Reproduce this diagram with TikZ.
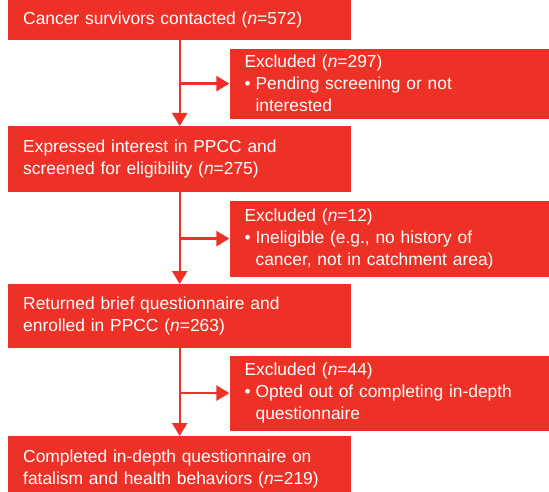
\documentclass[tikz,border=0pt]{standalone}
\usepackage{fontspec}
\setmainfont{Liberation Sans}
\usetikzlibrary{arrows.meta,positioning}

\definecolor{flowred}{RGB}{238,49,39}

% bullet for the exclusion reasons
\newcommand{\itemmark}{\makebox[11pt][l]{\textbullet}}
\newcommand{\itemgap}{\hspace*{11pt}}

\begin{document}
\begin{tikzpicture}[x=1pt,y=-1pt]

  % --- styles ---
  \tikzset{
    % main steps of the flow
    stagebox/.style={
      draw=none,
      fill=flowred,
      text=white,
      font=\fontsize{17.4pt}{22pt}\selectfont,
      align=left,
      anchor=north west,
      minimum width=343pt,
      text width=313pt,
      inner xsep=15pt,
      inner ysep=0pt
    },
    % side boxes for excluded survivors
    excludebox/.style={
      stagebox,
      minimum width=330pt,
      text width=300pt
    },
    flowline/.style={
      draw=flowred,
      line width=2.4pt,
      -{Triangle[width=15pt,length=13pt]}
    }
  }

  \clip (0,0) rectangle (549,492);

  % --- main stages ---
  \node[stagebox, minimum height=40pt] (contacted) at (8,0)
    {Cancer survivors contacted (\textit{n}=572)};
  \node[stagebox, minimum height=66pt] (screened) at (8,126)
    {Expressed interest in PPCC and\\screened for eligibility (\textit{n}=275)};
  \node[stagebox, minimum height=64pt] (enrolled) at (8,284)
    {Returned brief questionnaire and\\enrolled in PPCC (\textit{n}=263)};
  \node[stagebox, minimum height=66pt] (completed) at (8,436)
    {Completed in-depth questionnaire on\\fatalism and health behaviors (\textit{n}=219)};

  % --- exclusions ---
  \node[excludebox, minimum height=70pt, below right=8pt and -122pt of contacted.south east] (excluded1)
    {Excluded (\textit{n}=297)\\\itemmark Pending screening or not\\\itemgap interested};
  \node[excludebox, minimum height=76pt, below right=8pt and -122pt of screened.south east] (excluded2)
    {Excluded (\textit{n}=12)\\\itemmark Ineligible (e.g., no history of\\\itemgap cancer, not in catchment area)};
  \node[excludebox, minimum height=75pt, below right=7pt and -122pt of enrolled.south east] (excluded3)
    {Excluded (\textit{n}=44)\\\itemmark Opted out of completing in-depth\\\itemgap questionnaire};

  % --- connectors ---
  \coordinate (split1) at (contacted.south |- excluded1.west);
  \coordinate (split2) at (screened.south |- excluded2.west);
  \coordinate (split3) at (enrolled.south |- excluded3.west);

  \draw[flowline] (contacted) -- (screened);
  \draw[flowline] (screened) -- (enrolled);
  \draw[flowline] (enrolled) -- (completed);
  \draw[flowline] (split1) -- (excluded1.west);
  \draw[flowline] (split2) -- (excluded2.west);
  \draw[flowline] (split3) -- (excluded3.west);

\end{tikzpicture}
\end{document}
